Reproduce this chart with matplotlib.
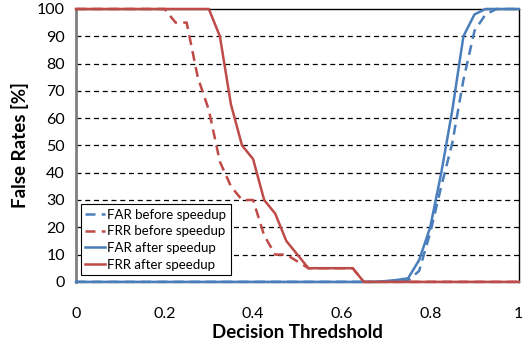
import matplotlib
matplotlib.use("Agg")
import matplotlib.pyplot as plt

# Data
far_before_x = [0, 0.65, 0.675, 0.7, 0.725, 0.75, 0.775, 0.8, 0.825, 0.85, 0.875, 0.9, 0.925, 0.95, 1.0]
far_before_y = [0, 0, 0, 0, 0.2, 0.5, 4, 18, 35, 51, 74, 92, 98, 100, 100]

frr_before_x = [0, 0.2, 0.225, 0.25, 0.275, 0.3, 0.325, 0.35, 0.375, 0.4, 0.425, 0.45, 0.475, 0.5, 0.525, 0.55, 0.575, 0.6, 0.625, 0.65, 1.0]
frr_before_y = [100, 100, 95, 95, 75, 63, 44, 35, 30, 30, 17, 10, 10, 7.5, 5, 5, 5, 5, 5, 0, 0]

far_after_x = [0, 0.65, 0.675, 0.7, 0.725, 0.75, 0.775, 0.8, 0.825, 0.85, 0.875, 0.9, 0.925, 1.0]
far_after_y = [0, 0, 0, 0.3, 0.7, 1.3, 8, 20, 40, 63, 90, 98, 100, 100]

frr_after_x = [0, 0.3, 0.325, 0.35, 0.375, 0.4, 0.425, 0.45, 0.475, 0.5, 0.525, 0.55, 0.575, 0.6, 0.625, 0.65, 1.0]
frr_after_y = [100, 100, 90, 65, 50, 45, 30, 25, 15, 10, 5, 5, 5, 5, 5, 0, 0]

x_ticks = [0, 0.2, 0.4, 0.6, 0.8, 1]
x_tick_labels = ["0", "0.2", "0.4", "0.6", "0.8", "1"]
y_ticks = [0, 10, 20, 30, 40, 50, 60, 70, 80, 90, 100]

BLUE = "#4A7EBB"
RED = "#BE4B48"

plt.rcParams['font.family'] = ['Lato', 'DejaVu Sans']

fig = plt.figure(figsize=(5.24, 3.45), dpi=100)
ax = fig.add_axes([0.145, 0.183, 0.845, 0.791])

for y in y_ticks[1:-1]:
    ax.axhline(y, color="black", linestyle=(0, (4, 3)), linewidth=0.9, zorder=1)

ax.plot(far_before_x, far_before_y, color=BLUE, linestyle=(0, (4, 2.5)), linewidth=1.8, label="FAR before speedup", zorder=3, clip_on=False)
ax.plot(frr_before_x, frr_before_y, color=RED, linestyle=(0, (4, 2.5)), linewidth=1.8, label="FRR before speedup", zorder=3, clip_on=False)
ax.plot(far_after_x, far_after_y, color=BLUE, linewidth=1.8, label="FAR after speedup", zorder=4, clip_on=False)
ax.plot(frr_after_x, frr_after_y, color=RED, linewidth=1.8, label="FRR after speedup", zorder=5, clip_on=False)

ax.set_xlim(0, 1)
ax.set_ylim(0, 100)
ax.set_xticks(x_ticks)
ax.set_xticklabels(x_tick_labels)
ax.set_yticks(y_ticks)
ax.tick_params(length=0, labelsize=11.5)
ax.tick_params(axis='x', pad=18)
ax.tick_params(axis='y', pad=8)

for s in ["top", "right"]:
    ax.spines[s].set_color("black")
    ax.spines[s].set_linewidth(1.0)
ax.spines["left"].set_color("#7f7f7f")
ax.spines["left"].set_linewidth(2.0)
ax.spines["bottom"].set_color("#7f7f7f")
ax.spines["bottom"].set_linewidth(1.0)

ax.set_xlabel("Decision Thredshold", fontsize=13.5, fontweight="bold", labelpad=2)
ax.set_ylabel("False Rates [%]", fontsize=13.5, fontweight="bold", labelpad=6)

leg = ax.legend(loc="lower left", bbox_to_anchor=(0.005, 0.015), fontsize=9.5,
                frameon=True, fancybox=False, edgecolor="black", framealpha=1,
                handlelength=1.5, handletextpad=0.15, borderpad=0.35, labelspacing=0.35,
                borderaxespad=0.2)
leg.get_frame().set_linewidth(0.8)

fig.savefig("out.png", dpi=100)
